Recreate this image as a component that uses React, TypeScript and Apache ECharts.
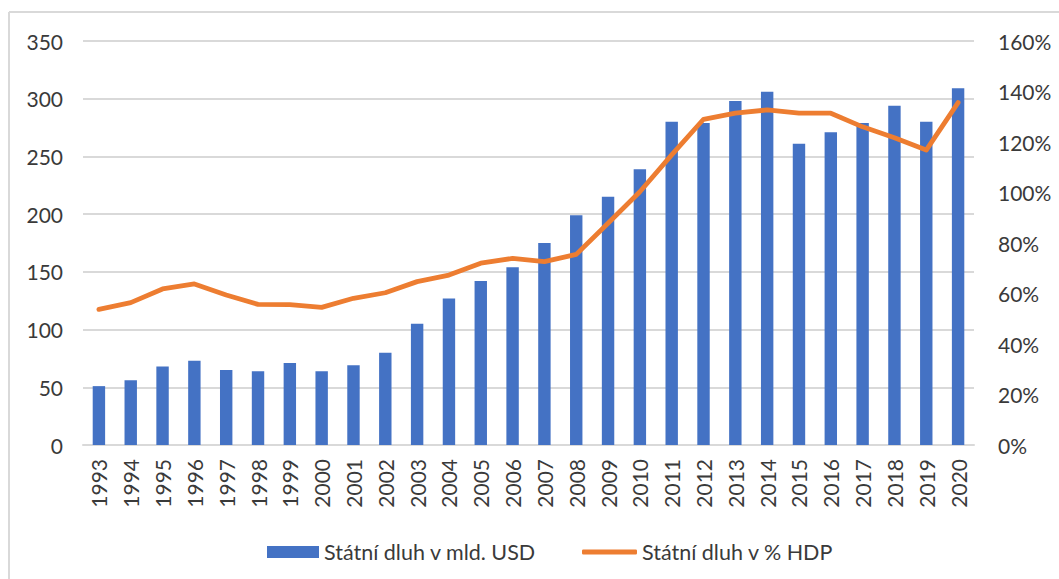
import React, { useEffect, useRef } from "react";
import * as echarts from "echarts";

const years = [
  "1993", "1994", "1995", "1996", "1997", "1998", "1999", "2000", "2001", "2002",
  "2003", "2004", "2005", "2006", "2007", "2008", "2009", "2010", "2011", "2012",
  "2013", "2014", "2015", "2016", "2017", "2018", "2019", "2020",
];
const debtUsd = [
  51, 56, 68, 73, 65, 64, 71, 64, 69, 80,
  105, 127, 142, 154, 175, 199, 215, 239, 280, 279,
  298, 306, 261, 271, 279, 294, 280, 309,
];
const debtPctGdp = [
  53.7, 56.4, 61.8, 63.8, 59.4, 55.7, 55.6, 54.5, 58.1, 60.3,
  64.7, 67.3, 72, 73.9, 72.6, 75.5, 87.8, 100.3, 114.9, 129,
  131.4, 132.7, 131.4, 131.4, 126, 121.7, 116.8, 135.6,
];
const seriesNames = ["Státní dluh v mld. USD", "Státní dluh v % HDP"];

const FONT = "Lato";
const TEXT = "#3a3a3a";

export default function App() {
  const ref = useRef<HTMLDivElement>(null);
  useEffect(() => {
    if (!ref.current) return;
    const chart = echarts.init(ref.current, undefined, { renderer: "svg" });
    const legendText = { fontFamily: FONT, fontSize: 21.5, color: TEXT };
    chart.setOption({
      animation: false,
      backgroundColor: "#ffffff",
      textStyle: { fontFamily: FONT },
      grid: { left: 83, right: 85, top: 41, bottom: 134, containLabel: false },
      graphic: [
        { type: "line", shape: { x1: 9, y1: 12, x2: 1059, y2: 12 }, style: { stroke: "#d9d9d9", lineWidth: 2 } },
        { type: "line", shape: { x1: 9, y1: 12, x2: 9, y2: 579 }, style: { stroke: "#d9d9d9", lineWidth: 2 } },
      ],
      legend: [
        {
          left: 262,
          top: 536,
          itemWidth: 52,
          itemHeight: 12,
          textStyle: legendText,
          data: [{ name: seriesNames[0], icon: "rect" }],
        },
        {
          left: 577,
          top: 536,
          itemWidth: 55,
          itemHeight: 5,
          textStyle: legendText,
          data: [{ name: seriesNames[1], icon: "roundRect", itemStyle: { color: "#ed7d31" } }],
        },
      ],
      xAxis: {
        type: "category",
        data: years,
        axisLine: { show: true, lineStyle: { color: "#d9d9d9", width: 2 } },
        axisTick: { show: false },
        axisLabel: { rotate: 90, margin: 14, fontFamily: FONT, fontSize: 21, color: TEXT, interval: 0 },
      },
      yAxis: [
        {
          type: "value",
          min: 0,
          max: 350,
          interval: 50,
          axisLine: { show: false },
          axisTick: { show: false },
          splitLine: { lineStyle: { color: "#d9d9d9", width: 2 } },
          axisLabel: { margin: 20, fontFamily: FONT, fontSize: 21, color: TEXT },
        },
        {
          type: "value",
          min: 0,
          max: 160,
          interval: 20,
          position: "right",
          axisLine: { show: false },
          axisTick: { show: false },
          splitLine: { show: false },
          axisLabel: { margin: 24, fontFamily: FONT, fontSize: 21, color: TEXT, formatter: "{value}%" },
        },
      ],
      series: [
        {
          name: seriesNames[0],
          type: "bar",
          data: debtUsd,
          barWidth: "39%",
          itemStyle: { color: "#4472c4" },
        },
        {
          name: seriesNames[1],
          type: "line",
          yAxisIndex: 1,
          data: debtPctGdp,
          symbol: "none",
          lineStyle: { color: "#ed7d31", width: 4.8, cap: "round", join: "round" },
          itemStyle: { color: "#ed7d31" },
        },
      ],
    });
    return () => chart.dispose();
  }, []);
  return (
    <div
      ref={ref}
      style={{ position: "fixed", left: 0, top: 0, width: 1059, height: 579, background: "#fff" }}
    />
  );
}
